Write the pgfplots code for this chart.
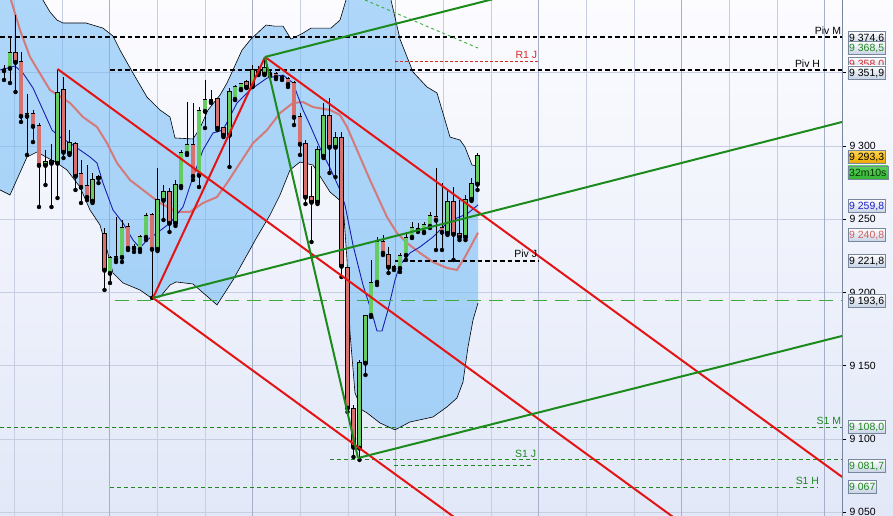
\documentclass[border=0pt]{standalone}
\usepackage{pgfplots}
\pgfplotsset{compat=1.18}
\usepackage{pgfplotstable}
\usepackage{fontspec}
\setmainfont{Liberation Sans}
\definecolor{bgtop}{RGB}{252,252,255}
\definecolor{bgbot}{RGB}{226,232,248}
\definecolor{band}{RGB}{110,185,245}
\definecolor{cgreen}{RGB}{100,204,96}
\definecolor{cred}{RGB}{216,112,110}
\definecolor{pfred}{RGB}{228,20,20}
\definecolor{pfgreen}{RGB}{28,138,28}
\definecolor{sgreen}{RGB}{30,135,30}
\definecolor{lgreen}{RGB}{60,170,60}
\definecolor{mablue}{RGB}{25,30,175}
\definecolor{masalmon}{RGB}{212,122,122}
\definecolor{gridc}{RGB}{200,206,226}
\definecolor{gridd}{RGB}{165,175,202}
\definecolor{boxbot}{RGB}{198,210,228}
\definecolor{boxdraw}{RGB}{120,135,158}
\definecolor{lblue}{RGB}{30,30,200}
\definecolor{lsalmon}{RGB}{208,96,96}
\definecolor{lred}{RGB}{215,40,40}

\pgfplotstableread{
x o h l c
4 9351.6 9355.3 9345.1 9351.9
10 9353.2 9373.7 9343.0 9363.5
27 9320.5 9335.5 9293.9 9321.8
45.5 9287.0 9297.3 9273.4 9289.1
51.5 9288.4 9301.4 9258.4 9289.8
57.5 9288.4 9351.9 9264.5 9336.2
69.5 9295.2 9310.9 9293.9 9302.0
92.5 9262.5 9281.6 9261.1 9276.8
98.5 9278.2 9280.2 9274.7 9278.8
110 9213.3 9224.9 9206.5 9223.5
116 9222.9 9251.5 9220.8 9224.2
122 9224.2 9249.5 9220.8 9244.0
134 9230.4 9233.1 9227.7 9231.1
140 9229.7 9239.3 9227.7 9237.9
146 9237.9 9254.3 9235.8 9252.2
157.5 9229.7 9285.0 9228.3 9263.1
163.5 9263.1 9273.4 9249.5 9268.6
175.5 9247.4 9276.8 9245.4 9273.4
181 9272.7 9297.3 9271.3 9295.2
187 9295.2 9330.0 9293.9 9300.7
199 9280.2 9326.6 9272.0 9323.9
205 9323.9 9345.1 9312.3 9331.4
211 9330.7 9338.2 9329.4 9331.4
229.5 9307.5 9339.6 9285.7 9336.9
235 9332.1 9341.6 9331.4 9340.3
241 9338.9 9343.0 9338.2 9342.3
252.5 9341.0 9355.3 9340.3 9351.9
258.5 9349.8 9354.6 9348.5 9351.9
264.5 9349.2 9360.8 9348.5 9353.2
270 9349.2 9351.9 9347.8 9350.2
282 9346.4 9348.5 9345.1 9347.1
317.5 9261.8 9300.0 9260.4 9297.3
323.5 9293.2 9329.4 9291.8 9320.5
335.5 9299.3 9309.6 9278.8 9305.5
359.5 9093.9 9153.9 9085.7 9151.9
365.5 9151.9 9184.6 9143.7 9184.0
371 9184.6 9222.2 9183.3 9206.5
377 9207.2 9237.9 9205.1 9234.5
394 9216.7 9218.8 9215.4 9217.4
400 9216.7 9227.0 9214.0 9224.9
406 9225.6 9240.6 9222.2 9237.2
412 9237.9 9248.1 9237.2 9244.0
418 9242.7 9247.4 9241.3 9243.3
424 9241.3 9248.1 9240.6 9246.1
430 9245.4 9255.0 9244.0 9252.2
447.5 9240.6 9270.0 9239.3 9261.8
465.5 9237.9 9266.6 9235.8 9263.1
471.5 9263.8 9278.2 9262.5 9274.1
477.5 9274.1 9295.2 9270.0 9293.3
}\upc

\pgfplotstableread{
x o h l c
15.5 9363.5 9389.4 9336.9 9357.3
21 9357.3 9364.2 9316.4 9320.5
33 9321.8 9324.6 9302.7 9313.6
39 9313.6 9315.7 9258.4 9287.0
63.5 9338.2 9347.1 9291.8 9295.9
75.5 9301.4 9302.7 9270.0 9279.5
81 9280.9 9290.4 9261.1 9272.0
87 9272.7 9287.0 9263.1 9265.2
104.5 9239.9 9244.0 9201.7 9215.4
128 9244.7 9247.4 9229.0 9230.4
152 9252.9 9254.3 9196.3 9229.7
169.5 9268.6 9271.3 9241.3 9247.4
193 9300.7 9329.4 9276.8 9279.5
217.5 9332.1 9332.8 9310.9 9312.3
223.5 9312.3 9313.0 9306.1 9307.5
246.5 9343.7 9345.1 9339.6 9340.3
276 9349.2 9350.5 9345.7 9347.1
288 9345.7 9347.1 9340.3 9342.3
294 9343.0 9344.4 9314.3 9319.8
300 9319.8 9322.5 9293.9 9301.4
305.5 9301.4 9304.1 9260.4 9265.2
311.5 9265.2 9286.4 9234.5 9261.8
329.5 9320.5 9332.8 9281.6 9299.3
341.5 9305.5 9309.6 9210.6 9218.1
347.5 9216.7 9217.4 9118.4 9121.2
353.5 9120.5 9123.2 9087.7 9094.5
383 9234.5 9239.3 9225.6 9227.0
388.5 9225.6 9231.1 9213.3 9217.4
436 9251.5 9285.0 9229.0 9249.5
442 9244.0 9274.7 9229.0 9241.3
453.5 9261.8 9272.0 9222.2 9239.9
459.5 9239.9 9263.1 9235.8 9237.9
}\dnc

% Bollinger band: upper, then lower (for the lines)
\pgfplotstableread{
x y
0 9420.1
40 9403.1
50 9391.5
57 9386.0
63 9384.0
86 9384.0
103 9380.5
113 9375.1
120 9365.5
133 9349.8
147 9333.4
160 9324.6
170 9319.8
175 9305.5
193 9304.8
200 9312.3
208 9324.6
220 9334.8
227 9343.0
242 9365.5
251 9373.0
266 9382.6
274 9381.9
283 9381.9
291 9373.0
303 9377.1
311 9380.5
331 9380.5
340 9386.0
346 9399.7
360 9413.3
380 9413.3
391 9399.7
400 9373.0
413 9350.5
427 9340.3
437 9336.2
450 9306.1
460 9304.1
465 9299.3
472 9287.0
478 9286.4
}\bbU

\pgfplotstableread{
x y
0 9270.0
10 9266.6
27 9292.5
37 9295.9
57 9288.4
67 9283.6
80 9272.0
90 9256.3
100 9246.1
107 9229.0
113 9213.3
123 9206.5
140 9201.7
150 9196.9
160 9196.9
170 9205.1
176 9207.2
193 9205.8
217 9191.5
233 9208.5
257 9237.9
270 9252.9
280 9266.6
290 9283.6
300 9289.1
313 9287.0
330 9268.6
343 9261.1
347 9222.2
350 9172.4
355 9131.4
362 9119.8
367 9117.8
380 9110.9
395 9106.2
410 9111.6
433 9115.0
447 9121.9
457 9128.0
463 9138.9
468 9162.8
473 9181.2
478 9192.8
}\bbL

% the same band as one closed outline, for its fill
\pgfplotstableread{
x y
0 9420.1
40 9403.1
50 9391.5
57 9386.0
63 9384.0
86 9384.0
103 9380.5
113 9375.1
120 9365.5
133 9349.8
147 9333.4
160 9324.6
170 9319.8
175 9305.5
193 9304.8
200 9312.3
208 9324.6
220 9334.8
227 9343.0
242 9365.5
251 9373.0
266 9382.6
274 9381.9
283 9381.9
291 9373.0
303 9377.1
311 9380.5
331 9380.5
340 9386.0
346 9399.7
360 9413.3
380 9413.3
391 9399.7
400 9373.0
413 9350.5
427 9340.3
437 9336.2
450 9306.1
460 9304.1
465 9299.3
472 9287.0
478 9286.4
478 9192.8
473 9181.2
468 9162.8
463 9138.9
457 9128.0
447 9121.9
433 9115.0
410 9111.6
395 9106.2
380 9110.9
367 9117.8
362 9119.8
355 9131.4
350 9172.4
347 9222.2
343 9261.1
330 9268.6
313 9287.0
300 9289.1
290 9283.6
280 9266.6
270 9252.9
257 9237.9
233 9208.5
217 9191.5
193 9205.8
176 9207.2
170 9205.1
160 9196.9
150 9196.9
140 9201.7
123 9206.5
113 9213.3
107 9229.0
100 9246.1
90 9256.3
80 9272.0
67 9283.6
57 9288.4
37 9295.9
27 9292.5
10 9266.6
0 9270.0
}\bbP

\pgfplotstableread{
x y
0 9351.9
15 9354.6
23 9349.8
33 9339.6
43 9324.6
52 9310.9
60 9306.1
70 9302.0
80 9297.3
90 9292.5
97 9288.4
103 9274.7
113 9256.3
123 9247.4
133 9235.8
140 9230.4
147 9235.8
157 9240.6
170 9247.4
183 9258.4
193 9278.8
203 9297.3
213 9308.9
223 9310.9
237 9329.4
250 9338.2
267 9346.4
283 9348.5
293 9343.0
303 9324.6
310 9314.3
320 9298.6
330 9285.0
340 9270.0
345 9259.7
353 9232.4
363 9205.1
372 9186.0
377 9173.7
382 9173.7
388 9188.1
395 9208.5
400 9218.8
410 9227.0
420 9231.1
433 9237.9
447 9247.4
457 9250.9
467 9253.6
478 9259.8
}\mab

\pgfplotstableread{
x y
8 9406.5
20 9379.2
30 9360.8
50 9338.2
70 9329.4
83 9319.8
97 9313.0
107 9302.0
117 9288.4
130 9276.8
147 9267.9
160 9261.1
177 9255.0
190 9255.0
203 9261.1
217 9265.2
227 9274.7
240 9288.4
253 9302.0
267 9310.9
280 9322.5
293 9329.4
303 9330.0
313 9326.6
330 9324.6
340 9321.2
347 9313.0
357 9297.3
370 9276.8
387 9251.5
397 9240.6
407 9233.8
420 9227.0
433 9220.8
447 9216.7
457 9215.4
465 9224.2
478 9240.8
}\mas

\tikzset{
  vbox/.style={draw=boxdraw, line width=0.6bp, top color=white, bottom color=boxbot,
    inner xsep=1.4bp, inner ysep=2.8bp, text height=7.5bp, text depth=0bp,
    anchor=west, font=\fontsize{10.5}{12}\selectfont},
  lab/.style={anchor=south east, inner sep=0.8bp, font=\fontsize{10.5}{12}\selectfont},
}
\pgfplotsset{
  wick/.style={only marks, mark=none, forget plot,
    error bars/y dir=plus, error bars/y explicit, error bars/error mark=none,
    error bars/error bar style={draw=black, line width=0.75bp}},
}

\begin{document}
\begin{tikzpicture}
\fill[top color=bgtop, bottom color=bgbot] (0,0) rectangle (893bp,516bp);
\begin{axis}[
  at={(0,0)}, anchor=south west,
  scale only axis, width=842bp, height=516bp,
  xmin=0, xmax=842, ymin=9047.4, ymax=9399.7,
  clip mode=individual,
  axis x line*=bottom, x axis line style={draw=none},
  axis y line*=right, y axis line style={draw=boxdraw, line width=0.8bp},
  xtick={14.5,62.2,157.5,205.1,300.4,348.1,443.4,491,586.3,634,729.3,776.9},
  extra x ticks={109.8,252.8,395.7,538.7,681.6,824.6},
  xticklabels={}, extra x tick labels={},
  xmajorgrids, ymajorgrids,
  grid style={gridc, line width=0.7bp},
  extra x tick style={grid style={gridd, line width=0.8bp}, xtick style={draw=none}},
  xtick style={draw=none},
  ytick={9050,9100,9150,9200,9250,9300,9350,9400},
  tick align=outside, major tick length=4bp,
  ytick style={black, line width=0.6bp},
  yticklabel style={font=\fontsize{10.5}{12}\selectfont,
    /pgf/number format/1000 sep={\ }, /pgf/number format/assume math mode=true},
]
% Bollinger band
\addplot[fill=band, fill opacity=0.55, draw=none, forget plot] table {\bbP} -- cycle;
\addplot[black, line width=0.6bp, forget plot] table {\bbU};
\addplot[black, line width=0.6bp, forget plot] table {\bbL};
% moving averages
\addplot[masalmon, line width=2bp, forget plot] table {\mas};
\addplot[mablue, line width=0.9bp, forget plot] table {\mab};
% horizontal levels
\addplot[black, line width=1.9bp, dash pattern=on 4.5bp off 3bp, forget plot] coordinates {(0,9374.6) (842,9374.6)};
\addplot[black, line width=1.9bp, dash pattern=on 4.5bp off 3bp, forget plot] coordinates {(110,9351.9) (842,9351.9)};
\addplot[lred, line width=0.9bp, dash pattern=on 3bp off 2bp, forget plot] coordinates {(395,9358.0) (538,9358.0)};
\addplot[black, line width=1.9bp, dash pattern=on 4.5bp off 3bp, forget plot] coordinates {(395,9221.8) (538,9221.8)};
\addplot[lgreen, line width=1bp, dash pattern=on 14bp off 8bp, forget plot] coordinates {(115,9194.6) (842,9194.6)};
\addplot[sgreen, line width=1bp, dash pattern=on 4bp off 3bp, forget plot] coordinates {(0,9108.0) (842,9108.0)};
\addplot[sgreen, line width=1bp, dash pattern=on 4bp off 3bp, forget plot] coordinates {(330,9085.8) (842,9085.8)};
\addplot[sgreen, line width=1bp, dash pattern=on 4bp off 3bp, forget plot] coordinates {(394,9081.7) (533,9081.7)};
\addplot[sgreen, line width=1bp, dash pattern=on 4bp off 3bp, forget plot] coordinates {(110,9067.0) (818,9067.0)};
\addplot[lgreen, line width=0.9bp, dash pattern=on 3bp off 3bp, forget plot] coordinates {(365,9399.7) (478,9366.9)};
% candles
\addplot[wick] table[x=x, y=l, y error expr=\thisrow{h}-\thisrow{l}] {\upc};
\addplot[wick] table[x=x, y=l, y error expr=\thisrow{h}-\thisrow{l}] {\dnc};
\addplot[wick, error bars/error bar style={draw=black, line width=4.8bp}] table[x=x, y expr=\thisrow{o}-0.45, y error expr=\thisrow{c}-\thisrow{o}+0.9] {\upc};
\addplot[wick, error bars/error bar style={draw=cgreen, line width=3.3bp}] table[x=x, y=o, y error expr=\thisrow{c}-\thisrow{o}] {\upc};
\addplot[wick, error bars/error bar style={draw=black, line width=4.8bp}] table[x=x, y expr=\thisrow{c}-0.45, y error expr=\thisrow{o}-\thisrow{c}+0.9] {\dnc};
\addplot[wick, error bars/error bar style={draw=cred, line width=3.3bp}] table[x=x, y=c, y error expr=\thisrow{o}-\thisrow{c}] {\dnc};
% red pitchfork
\addplot[pfred, line width=2bp, forget plot] coordinates {(153,9196.3) (265,9360.8)};
\addplot[pfred, line width=2bp, forget plot] coordinates {(57.5,9352.6) (842,8962.8)};
\addplot[pfred, line width=2bp, forget plot] coordinates {(265,9360.8) (842,9074.1)};
\addplot[pfred, line width=2bp, forget plot] coordinates {(153,9196.3) (842,8853.9)};
% green pitchfork
\addplot[pfgreen, line width=2bp, forget plot] coordinates {(265,9360.8) (358,9087.0)};
\addplot[pfgreen, line width=2bp, forget plot] coordinates {(153,9196.3) (842,9316.4)};
\addplot[pfgreen, line width=2bp, forget plot] coordinates {(265,9360.8) (842,9460.8)};
\addplot[pfgreen, line width=2bp, forget plot] coordinates {(358,9087.0) (842,9170.3)};
% level labels
\node[lab] at (axis cs:842,9375.6) {Piv M};
\node[lab] at (axis cs:821,9352.9) {Piv H};
\node[lab, text=lred] at (axis cs:538,9359.0) {R1 J};
\node[lab] at (axis cs:538,9222.8) {Piv J};
\node[lab, text=sgreen] at (axis cs:842,9109.0) {S1 M};
\node[lab, text=sgreen] at (axis cs:537,9086.8) {S1 J};
\node[lab, text=sgreen] at (axis cs:820,9068.0) {S1 H};
% anchors for value boxes
\coordinate (b1) at (axis cs:842,9374.1);
\coordinate (b2) at (axis cs:842,9366.9);
\coordinate (b3) at (axis cs:842,9356.3);
\coordinate (b4) at (axis cs:842,9350.2);
\coordinate (b5) at (axis cs:842,9292.7);
\coordinate (b6) at (axis cs:842,9281.9);
\coordinate (b7) at (axis cs:842,9259.0);
\coordinate (b8) at (axis cs:842,9239.3);
\coordinate (b9) at (axis cs:842,9221.7);
\coordinate (b10) at (axis cs:842,9194.4);
\coordinate (b11) at (axis cs:842,9108.0);
\coordinate (b12) at (axis cs:842,9081.6);
\coordinate (b13) at (axis cs:842,9067.4);
\end{axis}
\node[vbox] at ([xshift=5.5bp]b1) {9 374,6};
\node[vbox, text=sgreen] at ([xshift=5.5bp]b2) {9 368,5};
\node[vbox, text=lred] at ([xshift=5.5bp]b3) {9 358,0};
\node[vbox] at ([xshift=5.5bp]b4) {9 351,9};
\node[vbox, top color={rgb,255:red,255;green,214;blue,80}, bottom color={rgb,255:red,236;green,166;blue,0}] at ([xshift=5.5bp]b5) {9 293,3};
\node[vbox, top color={rgb,255:red,90;green,210;blue,90}, bottom color={rgb,255:red,50;green,180;blue,50}, text={rgb,255:red,10;green,50;blue,10}] at ([xshift=5.5bp]b6) {32m10s};
\node[vbox, text=lblue] at ([xshift=5.5bp]b7) {9 259,8};
\node[vbox, text=lsalmon] at ([xshift=5.5bp]b8) {9 240,8};
\node[vbox] at ([xshift=5.5bp]b9) {9 221,8};
\node[vbox] at ([xshift=5.5bp]b10) {9 193,6};
\node[vbox, text=sgreen] at ([xshift=5.5bp]b11) {9 108,0};
\node[vbox, text=sgreen] at ([xshift=5.5bp]b12) {9 081,7};
\node[vbox, text=sgreen] at ([xshift=5.5bp]b13) {9 067};
\pgfresetboundingbox
\path[use as bounding box] (0,0) rectangle (893bp,516bp);
\end{tikzpicture}
\end{document}
